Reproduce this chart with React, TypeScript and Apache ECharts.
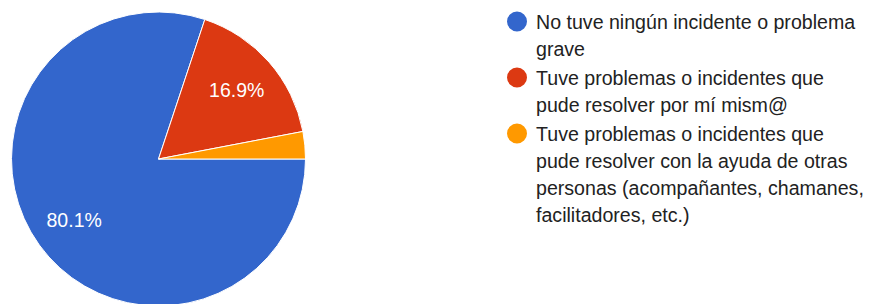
import React, { useEffect, useRef } from "react";
import * as echarts from "echarts";

const categories = [
  "No tuve ningún incidente o problema grave",
  "Tuve problemas o incidentes que pude resolver por mí mism@",
  "Tuve problemas o incidentes que pude resolver con la ayuda de otras personas (acompañantes, chamanes, facilitadores, etc.)",
];
const values = [80.1, 16.9, 3.0];
const legendLines = [
  ["No tuve ningún incidente o problema", "grave"],
  ["Tuve problemas o incidentes que", "pude resolver por mí mism@"],
  [
    "Tuve problemas o incidentes que",
    "pude resolver con la ayuda de otras",
    "personas (acompañantes, chamanes,",
    "facilitadores, etc.)",
  ],
];
const colors = ["#3366cc", "#dc3912", "#ff9900"];
const showLabel = [true, true, false];

const FONT = "'Liberation Sans', Arial, sans-serif";

export default function App() {
  const ref = useRef<HTMLDivElement>(null);
  useEffect(() => {
    if (!ref.current) return;
    const chart = echarts.init(ref.current, undefined, { renderer: "svg" });
    const rich: any = {
      ind: { width: 29 },
      gap: { width: 9 },
    };
    colors.forEach((c, i) => {
      rich["d" + i] = { width: 20, height: 20, borderRadius: 10, backgroundColor: c };
    });
    const option: any = {
      animation: false,
      color: colors,
      legend: {
        orient: "vertical",
        left: 497,
        top: 3,
        icon: "none",
        itemWidth: 0,
        itemHeight: 10,
        itemGap: 2,
        selectedMode: false,
        data: categories,
        formatter: (name: string) => {
          const i = categories.indexOf(name);
          const lines = legendLines[i];
          return lines
            .map((l, k) => (k === 0 ? `{d${i}|}{gap|}${l}` : `{ind|}${l}`))
            .join("\n");
        },
        textStyle: {
          fontFamily: FONT,
          fontSize: 19.6,
          lineHeight: 27,
          color: "#222222",
          rich,
        },
      },
      series: [
        {
          type: "pie",
          center: [158.5, 159],
          radius: [0, 147],
          startAngle: 0,
          clockwise: true,
          silent: true,
          percentPrecision: 1,
          label: { show: false },
          labelLine: { show: false },
          itemStyle: { borderColor: "#ffffff", borderWidth: 1 },
          emphasis: { disabled: true },
          data: categories.map((n, i) => ({ name: n, value: values[i] })),
        },
        {
          type: "pie",
          center: [158.5, 159],
          radius: [55, 147],
          startAngle: 0,
          clockwise: true,
          silent: true,
          percentPrecision: 1,
          itemStyle: { color: "rgba(0,0,0,0)", borderWidth: 0 },
          emphasis: { disabled: true },
          labelLine: { show: false },
          label: {
            show: true,
            position: "inside",
            formatter: "{d}%",
            color: "#ffffff",
            fontFamily: FONT,
            fontSize: 19.5,
          },
          data: categories.map((n, i) => ({
            name: n,
            value: values[i],
            label: { show: showLabel[i] },
          })),
        },
      ],
    };
    chart.setOption(option);
    return () => chart.dispose();
  }, []);
  return (
    <div
      ref={ref}
      style={{ position: "absolute", left: 0, top: 0, width: 872, height: 304, background: "#fff" }}
    />
  );
}
